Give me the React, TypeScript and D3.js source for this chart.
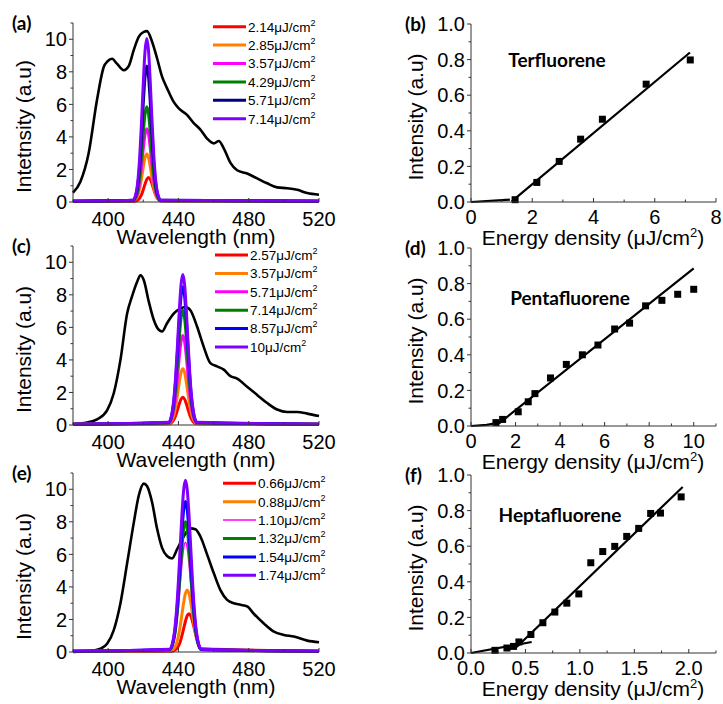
import React from 'react';
import * as d3 from 'd3';

// ---------- data ----------

// broad PL spectra (black lines), [wavelength nm, intensity]
const broadA: [number, number][] = [
  [380, 0.57], [384.2, 1.25], [388.9, 3.0], [393.7, 6.3], [397.5, 8.3], [399.7, 8.65],
  [402.2, 8.8], [405, 8.5], [408.9, 8.1], [411.7, 8.35], [414.6, 9.35], [417.4, 10.15],
  [420.3, 10.45], [422.1, 10.5], [425, 9.85], [427.8, 8.85], [430.7, 7.7], [433.5, 7.0],
  [437.3, 6.15], [440.2, 5.75], [444.9, 5.35], [448.7, 4.85], [452.5, 4.45], [456.3, 3.9],
  [460.1, 3.6], [463, 3.75], [465.8, 3.3], [469.6, 2.4], [473.4, 1.95], [479.1, 1.75],
  [484.8, 1.45], [490.5, 1.15], [496.2, 0.9], [501.9, 0.85], [507.6, 0.75], [513.3, 0.55],
  [520, 0.45],
];
const broadC: [number, number][] = [
  [380, 0.06], [388, 0.15], [393.7, 0.35], [399.4, 0.9], [403.2, 1.95], [407, 4.0],
  [410.8, 6.85], [413.6, 7.9], [416.5, 8.8], [418.4, 9.2], [420.3, 8.9], [423.1, 7.6],
  [426, 6.45], [428.8, 5.85], [430.7, 5.75], [433.5, 6.25], [437.3, 6.85], [441.1, 7.15],
  [444, 7.25], [446.8, 7.05], [450.6, 6.05], [454.4, 4.8], [458.2, 3.8], [462, 3.6],
  [465.8, 3.4], [469.6, 3.0], [473.4, 2.85], [479.1, 2.35], [484.8, 1.85], [490.5, 1.35],
  [496.2, 0.95], [501.9, 0.8], [507.6, 0.8], [513.3, 0.7], [520, 0.55],
];
const broadE: [number, number][] = [
  [380, 0.0], [389.9, 0.06], [395.6, 0.2], [399.4, 0.5], [403.2, 1.35], [407, 3.0],
  [410.8, 5.45], [414.6, 7.95], [417.4, 9.6], [420.3, 10.35], [422.1, 10.2], [425, 9.2],
  [427.8, 7.6], [430.7, 6.4], [433.5, 5.9], [436.4, 5.75], [439.2, 6.3], [443, 7.1],
  [446.8, 7.6], [449.7, 7.55], [452.5, 7.1], [456.3, 6.0], [460.1, 4.85], [463.9, 3.8],
  [467.7, 3.2], [471.5, 3.0], [475.3, 2.9], [479.1, 2.8], [482.9, 2.35], [488.6, 1.75],
  [494.3, 1.25], [500, 1.05], [505.7, 0.95], [513.3, 0.7], [520, 0.6],
];

// narrow ASE peaks: shared wavelength grid + one intensity list per fluence
const peakNmA = [380, 414, 416, 417, 418, 419, 420, 421, 422, 423, 424, 425, 426, 427, 428, 430, 520];
const peaksA = [
  [0.05, 0.05, 0.08, 0.13, 0.25, 0.45, 0.76, 1.1, 1.39, 1.5, 1.39, 1.1, 0.76, 0.45, 0.25, 0.08, 0.05],
  [0.05, 0.07, 0.21, 0.44, 0.86, 1.46, 2.15, 2.73, 2.95, 2.73, 2.15, 1.46, 0.86, 0.44, 0.21, 0.07, 0.05],
  [0.05, 0.08, 0.3, 0.65, 1.29, 2.22, 3.28, 4.16, 4.5, 4.16, 3.28, 2.22, 1.29, 0.65, 0.3, 0.08, 0.05],
  [0.05, 0.08, 0.37, 0.83, 1.66, 2.87, 4.26, 5.4, 5.85, 5.4, 4.26, 2.87, 1.66, 0.83, 0.37, 0.08, 0.05],
  [0.05, 0.1, 0.51, 1.17, 2.36, 4.09, 6.08, 7.71, 8.35, 7.71, 6.08, 4.09, 2.36, 1.17, 0.51, 0.1, 0.05],
  [0.05, 0.11, 0.61, 1.4, 2.83, 4.92, 7.31, 9.28, 10.05, 9.28, 7.31, 4.92, 2.83, 1.4, 0.61, 0.11, 0.05],
];
const fluenceA = ['2.14', '2.85', '3.57', '4.29', '5.71', '7.14'];
const colorsA = ['#ff0000', '#ff8000', '#ff00ff', '#008000', '#000080', '#8000ff'];

const peakNmC = [380, 434.5, 436.5, 437.5, 438.5, 439.5, 440.5, 441.5, 442.5, 443.5, 444.5, 445.5, 446.5, 447.5, 448.5, 450.5, 520];
const peaksC = [
  [0.05, 0.07, 0.19, 0.35, 0.6, 0.94, 1.3, 1.59, 1.7, 1.59, 1.3, 0.94, 0.6, 0.35, 0.19, 0.07, 0.05],
  [0.05, 0.09, 0.34, 0.66, 1.19, 1.88, 2.63, 3.23, 3.45, 3.23, 2.63, 1.88, 1.19, 0.66, 0.34, 0.09, 0.05],
  [0.05, 0.12, 0.51, 1.03, 1.87, 2.99, 4.19, 5.14, 5.5, 5.14, 4.19, 2.99, 1.87, 1.03, 0.51, 0.12, 0.05],
  [0.05, 0.14, 0.65, 1.31, 2.39, 3.82, 5.37, 6.59, 7.05, 6.59, 5.37, 3.82, 2.39, 1.31, 0.65, 0.14, 0.05],
  [0.05, 0.16, 0.77, 1.57, 2.87, 4.6, 6.47, 7.94, 8.5, 7.94, 6.47, 4.6, 2.87, 1.57, 0.77, 0.16, 0.05],
  [0.05, 0.17, 0.83, 1.71, 3.12, 5.01, 7.04, 8.64, 9.25, 8.64, 7.04, 5.01, 3.12, 1.71, 0.83, 0.17, 0.05],
];
const fluenceC = ['2.57', '3.57', '5.71', '7.14', '8.57', '10'];
const colorsC = ['#ff0000', '#ff8000', '#ff00ff', '#008000', '#0000ff', '#8000ff'];

const peakNmE = [380, 435, 437, 438, 439, 440, 441, 442, 443, 444, 445, 446, 447, 448, 449, 450, 451, 453, 520];
const peaksE = [
  [0.05, 0.05, 0.08, 0.12, 0.2, 0.36, 0.62, 1.0, 1.45, 1.89, 2.23, 2.35, 2.23, 1.89, 1.45, 1.0, 0.62, 0.2, 0.05],
  [0.05, 0.07, 0.16, 0.3, 0.56, 0.98, 1.59, 2.33, 3.05, 3.6, 3.8, 3.6, 3.05, 2.33, 1.59, 0.98, 0.56, 0.16, 0.05],
  [0.05, 0.12, 0.49, 0.95, 1.72, 2.8, 4.12, 5.42, 6.39, 6.75, 6.39, 5.42, 4.12, 2.8, 1.72, 0.95, 0.49, 0.12, 0.05],
  [0.05, 0.14, 0.57, 1.12, 2.03, 3.32, 4.88, 6.42, 7.57, 8.0, 7.57, 6.42, 4.88, 3.32, 2.03, 1.12, 0.57, 0.14, 0.05],
  [0.05, 0.15, 0.66, 1.29, 2.34, 3.83, 5.63, 7.42, 8.75, 9.25, 8.75, 7.42, 5.63, 3.83, 2.34, 1.29, 0.66, 0.15, 0.05],
  [0.05, 0.17, 0.74, 1.47, 2.66, 4.37, 6.42, 8.46, 9.98, 10.55, 9.98, 8.46, 6.42, 4.37, 2.66, 1.47, 0.74, 0.17, 0.05],
];
const fluenceE = ['0.66', '0.88', '1.10', '1.32', '1.54', '1.74'];
const colorsE = ['#ff0000', '#ff8000', '#ff00ff', '#008000', '#0000ff', '#8000ff'];
const widthsE = [3, 3, 1.5, 3, 3, 3];

// ASE intensity vs pump energy density
const energyB = [1.44, 2.15, 2.88, 3.58, 4.29, 5.72, 7.16];
const intensityB = [0.013, 0.11, 0.228, 0.353, 0.465, 0.662, 0.798];
const fitB: [number, number][][] = [
  [[0, 0], [1.27, 0.013]],
  [[1.33, 0.004], [7.15, 0.84]],
];

const energyD = [1.12, 1.42, 2.12, 2.57, 2.87, 3.57, 4.28, 5.0, 5.7, 6.45, 7.12, 7.84, 8.57, 9.28, 10.0];
const intensityD = [0.019, 0.037, 0.08, 0.136, 0.182, 0.27, 0.346, 0.4, 0.455, 0.545, 0.578, 0.675, 0.706, 0.74, 0.768];
const fitD: [number, number][][] = [
  [[0, 0], [0.7, 0.006], [1.3, 0.019], [10, 0.885]],
];

const energyF = [0.22, 0.33, 0.39, 0.44, 0.55, 0.66, 0.77, 0.88, 0.99, 1.1, 1.21, 1.32, 1.43, 1.54, 1.65, 1.74, 1.93];
const intensityF = [0.015, 0.028, 0.037, 0.062, 0.104, 0.17, 0.23, 0.28, 0.332, 0.507, 0.57, 0.599, 0.655, 0.7, 0.784, 0.786, 0.877];
const fitF: [number, number][][] = [
  [[0, 0], [0.557, 0.062]],
  [[0.42, 0.034], [1.944, 0.933]],
];

// tick values
const waveTicks = [400, 440, 480, 520];
const waveMinor = [380, 420, 460, 500];
const specYTicks = [0, 2, 4, 6, 8, 10];
const specYMinor = [1, 3, 5, 7, 9, 11];
const normYTicks = [0, 0.2, 0.4, 0.6, 0.8, 1.0];
const normYMinor = [0.1, 0.3, 0.5, 0.7, 0.9];

const FONT = '"Liberation Sans", Arial, sans-serif';
const BOLD = 'Lato, "Open Sans", sans-serif';
const AXIS = '#333';
const TICK_FS = 20;
const TITLE_FS = 21;

type SpecProps = {
  y0: number;
  label: string;
  yTitle: string;
  broad: [number, number][];
  peakNm: number[];
  peaks: number[][];
  fluence: string[];
  colors: string[];
  widths?: number[];
  legendX: number;
  legendY: number;
};

// emission spectrum panel (a), (c), (e)
const SpectrumPanel = ({ y0, label, yTitle, broad, peakNm, peaks, fluence, colors, widths, legendX, legendY }: SpecProps) => {
  const x = d3.scaleLinear().domain([380, 520]).range([73, 319]);
  const y = d3.scaleLinear().domain([0, 11]).range([y0, y0 - 179]);
  const line = d3.line<[number, number]>()
    .x((d) => x(d[0]))
    .y((d) => y(d[1]))
    .curve(d3.curveMonotoneX);

  return (
    <g>
      {/* broad spontaneous emission */}
      <path d={line(broad) ?? ''} fill="none" stroke="#000" strokeWidth={2.6} strokeLinejoin="round" />
      {/* narrow ASE peaks */}
      {peaks.map((vals, i) => (
        <path
          key={i}
          d={line(peakNm.map((nm, j) => [nm, vals[j]] as [number, number])) ?? ''}
          fill="none"
          stroke={colors[i]}
          strokeWidth={widths ? widths[i] : 3}
          strokeLinejoin="round"
        />
      ))}

      {/* axes */}
      <line x1={x(380)} x2={x(520)} y1={y0} y2={y0} stroke={AXIS} strokeWidth={1} />
      <line x1={x(380)} x2={x(380)} y1={y(0)} y2={y(11)} stroke={AXIS} strokeWidth={1} />
      {waveTicks.map((t) => (
        <g key={t}>
          <line x1={x(t)} x2={x(t)} y1={y0} y2={y0 - 4} stroke={AXIS} />
          <text x={x(t)} y={y0 + 24} textAnchor="middle" fontSize={TICK_FS} fontFamily={FONT}>{t}</text>
        </g>
      ))}
      {waveMinor.map((t) => (
        <line key={t} x1={x(t)} x2={x(t)} y1={y0} y2={y0 - 2.5} stroke={AXIS} />
      ))}
      {specYTicks.map((t) => (
        <g key={t}>
          <line x1={x(380) - 4} x2={x(380)} y1={y(t)} y2={y(t)} stroke={AXIS} />
          <text x={x(380) - 6} y={y(t)} dy="0.36em" textAnchor="end" fontSize={TICK_FS} fontFamily={FONT}>{t}</text>
        </g>
      ))}
      {specYMinor.map((t) => (
        <line key={t} x1={x(380) - 2.5} x2={x(380)} y1={y(t)} y2={y(t)} stroke={AXIS} />
      ))}

      <text x={196} y={y0 + 42} textAnchor="middle" fontSize={TITLE_FS} fontFamily={FONT}>Wavelength (nm)</text>
      <text
        transform={`translate(31, ${y0 - 89.5 + 14}) rotate(-90)`}
        textAnchor="middle"
        fontSize={TITLE_FS}
        fontFamily={FONT}
      >
        {yTitle}
      </text>
      <text x={12} y={y0 - 172} fontSize={19} fontWeight={700} fontFamily={BOLD}>{label}</text>

      {/* legend */}
      {fluence.map((f, i) => {
        const ly = legendY + i * 18.4;
        return (
          <g key={f}>
            <line x1={legendX} x2={legendX + 33} y1={ly} y2={ly} stroke={colors[i]} strokeWidth={widths ? widths[i] : 3} />
            <text x={legendX + 35} y={ly} dy="0.36em" fontSize={13.5} fontFamily={FONT}>
              {f}μJ/cm<tspan fontSize={9} dy="-6">2</tspan>
            </text>
          </g>
        );
      })}
    </g>
  );
};

type EnergyProps = {
  y0: number;
  label: string;
  name: string;
  nameX: number;
  nameY: number;
  xMax: number;
  xTicks: number[];
  xMinor: number[];
  xFormat: (v: number) => string;
  energy: number[];
  intensity: number[];
  fits: [number, number][][];
};

// ASE intensity vs energy density panel (b), (d), (f)
const EnergyPanel = ({ y0, label, name, nameX, nameY, xMax, xTicks, xMinor, xFormat, energy, intensity, fits }: EnergyProps) => {
  const x = d3.scaleLinear().domain([0, xMax]).range([471, 716]);
  const y = d3.scaleLinear().domain([0, 1]).range([y0, y0 - 178]);
  const line = d3.line<[number, number]>().x((d) => x(d[0])).y((d) => y(d[1]));
  const fmtY = d3.format('.1f');
  const s = 7;

  return (
    <g>
      {fits.map((f, i) => (
        <path key={i} d={line(f) ?? ''} fill="none" stroke="#000" strokeWidth={2.2} />
      ))}
      {energy.map((e, i) => (
        <rect key={i} x={x(e) - s / 2} y={y(intensity[i]) - s / 2} width={s} height={s} fill="#000" />
      ))}

      <line x1={471} x2={716} y1={y0} y2={y0} stroke={AXIS} />
      <line x1={471} x2={471} y1={y(0)} y2={y(1)} stroke={AXIS} />
      {xTicks.map((t) => (
        <g key={t}>
          <line x1={x(t)} x2={x(t)} y1={y0} y2={y0 - 4} stroke={AXIS} />
          <text x={x(t)} y={y0 + 22} textAnchor="middle" fontSize={TICK_FS} fontFamily={FONT}>{xFormat(t)}</text>
        </g>
      ))}
      {xMinor.map((t) => (
        <line key={t} x1={x(t)} x2={x(t)} y1={y0} y2={y0 - 2.5} stroke={AXIS} />
      ))}
      {normYTicks.map((t) => (
        <g key={t}>
          <line x1={467} x2={471} y1={y(t)} y2={y(t)} stroke={AXIS} />
          <text x={465} y={y(t)} dy="0.36em" textAnchor="end" fontSize={TICK_FS} fontFamily={FONT}>{fmtY(t)}</text>
        </g>
      ))}
      {normYMinor.map((t) => (
        <line key={t} x1={468.5} x2={471} y1={y(t)} y2={y(t)} stroke={AXIS} />
      ))}

      <text x={593} y={y0 + 43} textAnchor="middle" fontSize={TITLE_FS} fontFamily={FONT}>
        Energy density (μJ/cm<tspan fontSize={13} dy="-8">2</tspan><tspan dy="8">)</tspan>
      </text>
      <text
        transform={`translate(423, ${y0 - 89 + 4}) rotate(-90)`}
        textAnchor="middle"
        fontSize={TITLE_FS}
        fontFamily={FONT}
      >
        Intensity (a.u)
      </text>
      <text x={405} y={y0 - 171} fontSize={19} fontWeight={700} fontFamily={BOLD}>{label}</text>
      <text x={nameX} y={nameY} textAnchor="middle" fontSize={19} fontWeight={700} fontFamily={BOLD}>{name}</text>
    </g>
  );
};

export default function App() {
  const f1 = d3.format('.1f');
  const f0 = d3.format('d');
  return (
    <svg
      width={723}
      height={704}
      viewBox="0 0 723 704"
      style={{ position: 'absolute', left: 0, top: 0, background: '#fff' }}
    >
      <rect width={723} height={704} fill="#fff" />
      <SpectrumPanel
        y0={202} label="(a)" yTitle="Intetnsity (a.u)" broad={broadA}
        peakNm={peakNmA} peaks={peaksA} fluence={fluenceA} colors={colorsA}
        legendX={213} legendY={26.7}
      />
      <SpectrumPanel
        y0={425} label="(c)" yTitle="Intensity (a.u)" broad={broadC}
        peakNm={peakNmC} peaks={peaksC} fluence={fluenceC} colors={colorsC}
        legendX={215} legendY={255}
      />
      <SpectrumPanel
        y0={652} label="(e)" yTitle="Intensity (a.u)" broad={broadE}
        peakNm={peakNmE} peaks={peaksE} fluence={fluenceE} colors={colorsE} widths={widthsE}
        legendX={223} legendY={483.3}
      />
      <EnergyPanel
        y0={202} label="(b)" name="Terfluorene" nameX={557} nameY={67}
        xMax={8} xTicks={[0, 2, 4, 6, 8]} xMinor={[1, 3, 5, 7]} xFormat={f0}
        energy={energyB} intensity={intensityB} fits={fitB}
      />
      <EnergyPanel
        y0={426} label="(d)" name="Pentafluorene" nameX={570} nameY={305}
        xMax={11} xTicks={[0, 2, 4, 6, 8, 10]} xMinor={[1, 3, 5, 7, 9, 11]} xFormat={f0}
        energy={energyD} intensity={intensityD} fits={fitD}
      />
      <EnergyPanel
        y0={653} label="(f)" name="Heptafluorene" nameX={560} nameY={522}
        xMax={2.25} xTicks={[0, 0.5, 1.0, 1.5, 2.0]} xMinor={[0.25, 0.75, 1.25, 1.75, 2.25]} xFormat={f1}
        energy={energyF} intensity={intensityF} fits={fitF}
      />
    </svg>
  );
}
